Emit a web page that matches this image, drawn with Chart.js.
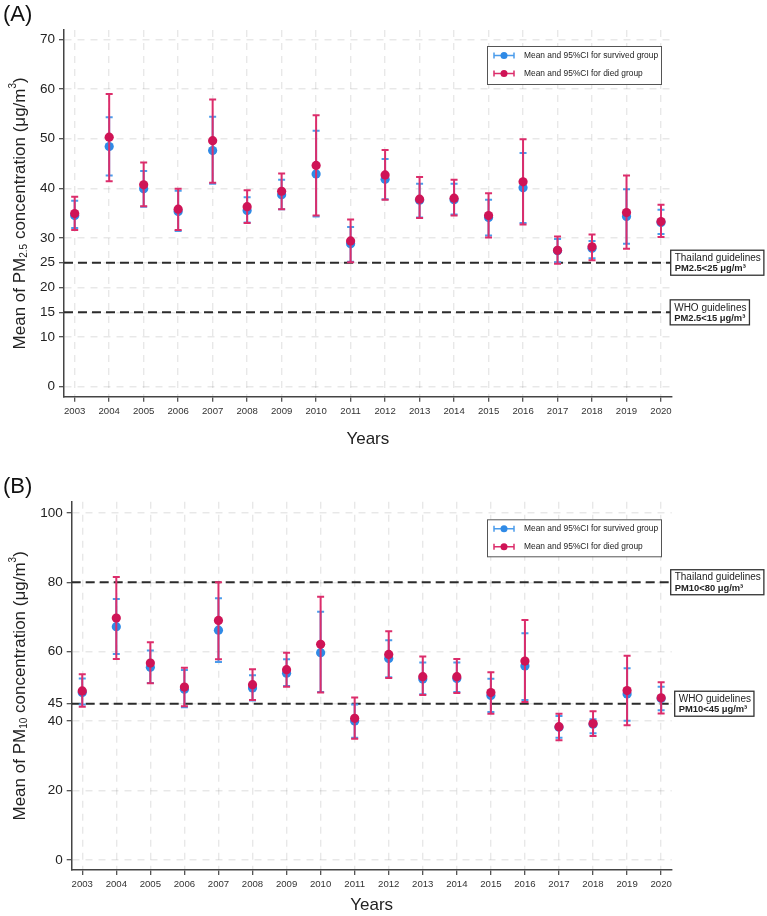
<!DOCTYPE html>
<html>
<head>
<meta charset="utf-8">
<title>PM2.5 and PM10 by year</title>
<script src="https://cdn.jsdelivr.net/npm/chart.js@4.4.1/dist/chart.umd.min.js"></script>
<style>
  body { margin: 0; background: #fff; }
  .panel { position: absolute; left: 0; width: 767px; height: 458px; }
  #panelA { top: 0; }
  #panelB { top: 458px; }
</style>
</head>
<body>
<div class="panel" id="panelA"><canvas id="chartA" width="767" height="458"></canvas></div>
<div class="panel" id="panelB"><canvas id="chartB" width="767" height="458"></canvas></div>
<script>
const FONT = '"Liberation Sans", Arial, Helvetica, sans-serif';

const years = [2003, 2004, 2005, 2006, 2007, 2008, 2009, 2010, 2011, 2012, 2013, 2014, 2015, 2016, 2017, 2018, 2019, 2020];

// PM2.5 - survived group (mean, lower and upper 95% CI)
const pm25SurvMean = [34.5, 48.4, 39.9, 35.3, 47.6, 35.5, 38.7, 42.9, 28.8, 41.8, 37.6, 37.7, 34.1, 40.1, 27.4, 27.9, 34.3, 33.1];
const pm25SurvLo   = [32.0, 42.6, 36.3, 31.4, 40.9, 33.1, 35.8, 34.3, 25.2, 37.8, 34.1, 34.7, 30.5, 33.0, 25.1, 25.9, 28.8, 30.8];
const pm25SurvHi   = [37.5, 54.3, 43.5, 39.5, 54.4, 38.2, 41.7, 51.6, 32.2, 45.9, 40.9, 40.9, 37.7, 47.1, 29.8, 29.4, 39.8, 35.7];
// PM2.5 - died group
const pm25DiedMean = [34.9, 50.3, 40.7, 35.8, 49.6, 36.3, 39.4, 44.6, 29.4, 42.7, 37.8, 38.0, 34.5, 41.3, 27.5, 28.2, 35.1, 33.3];
const pm25DiedLo   = [31.6, 41.4, 36.4, 31.6, 41.1, 33.0, 35.8, 34.5, 25.1, 37.7, 34.0, 34.5, 30.1, 32.7, 24.8, 25.5, 27.8, 30.2];
const pm25DiedHi   = [38.3, 59.0, 45.2, 39.9, 57.9, 39.6, 43.0, 54.7, 33.7, 47.7, 42.3, 41.7, 39.0, 49.9, 30.3, 30.7, 42.6, 36.7];

// PM10 - survived group
const pm10SurvMean = [48.2, 67.2, 55.5, 49.2, 66.2, 49.5, 53.8, 59.7, 40.0, 58.0, 52.1, 52.3, 47.4, 55.9, 38.2, 39.1, 47.8, 46.5];
const pm10SurvLo   = [44.8, 59.3, 51.0, 44.0, 57.0, 45.9, 50.1, 48.4, 35.2, 52.6, 47.7, 48.4, 42.6, 46.1, 35.2, 36.5, 40.1, 43.1];
const pm10SurvHi   = [52.3, 75.2, 60.3, 54.7, 75.4, 53.2, 57.8, 71.5, 44.8, 63.3, 56.9, 56.9, 52.2, 65.3, 41.5, 40.5, 55.2, 49.9];
// PM10 - died group
const pm10DiedMean = [48.7, 69.7, 56.7, 49.8, 69.0, 50.5, 54.8, 62.1, 40.8, 59.2, 52.8, 52.8, 48.2, 57.3, 38.4, 39.3, 48.8, 46.7];
const pm10DiedLo   = [44.1, 57.9, 50.9, 44.3, 57.8, 46.1, 49.9, 48.2, 34.9, 52.4, 47.5, 48.1, 42.1, 45.5, 34.5, 35.7, 38.8, 42.2];
const pm10DiedHi   = [53.5, 81.5, 62.7, 55.4, 80.0, 54.9, 59.7, 75.8, 46.8, 65.9, 58.6, 57.9, 54.1, 69.1, 42.1, 42.8, 58.8, 51.2];

// y tick labels and guideline values
const pm25Ticks = [0, 10, 15, 20, 25, 30, 40, 50, 60, 70];
const pm10Ticks = [0, 20, 40, 45, 60, 80, 100];
const pm25Thai = 25, pm25Who = 15;
const pm10Thai = 80, pm10Who = 45;

const legendLabels = ['Mean and 95%CI for survived group', 'Mean and 95%CI for died group'];

const BLUE = '#2f8ae6', BLUE_BAR = '#4b9ceb';
const RED = '#cf1456', RED_BAR = '#dc2d6b';
const X_MIN = 2002.69, X_MAX = 2020.31;

// stems + caps in one line dataset, broken with null gaps
function ciPoints(lo, hi) {
    let pts = [];
    years.forEach((yr, i) => {
        pts.push({x: yr, y: lo[i]}, {x: yr, y: hi[i]}, {x: yr, y: null});
    });
    return pts;
}
function meanPoints(m) {
    return years.map((yr, i) => ({x: yr, y: m[i]}));
}
function refLine(v) {
    return [{x: X_MIN, y: v}, {x: X_MAX, y: v}];
}

// rotated axis title with sub/superscripts
function drawRich(ctx, parts, cx, cy) {
    ctx.save();
    ctx.translate(cx, cy);
    ctx.rotate(-Math.PI / 2);
    ctx.textBaseline = 'middle';
    ctx.textAlign = 'left';
    let total = 0;
    parts.forEach(p => {
        ctx.font = p.size + 'px ' + FONT;
        p.w = ctx.measureText(p.t).width;
        total += p.w;
    });
    let x = -total / 2;
    parts.forEach(p => {
        ctx.font = p.size + 'px ' + FONT;
        ctx.fillText(p.t, x, p.dy || 0);
        x += p.w;
    });
    ctx.restore();
}

const decor = {
    id: 'decor',
    afterDraw(chart, args, o) {
        const ctx = chart.ctx, area = chart.chartArea, ys = chart.scales.y;
        ctx.save();
        ctx.fillStyle = '#111';
        ctx.textAlign = 'left';
        ctx.textBaseline = 'alphabetic';
        ctx.font = '22px ' + FONT;
        ctx.fillText(o.tag, 3, o.tagY);

        ctx.fillStyle = '#222';
        drawRich(ctx, o.yTitle, 20, (area.top + area.bottom) / 2);

        ctx.font = '17px ' + FONT;
        ctx.textAlign = 'center';
        ctx.textBaseline = 'middle';
        ctx.fillText('Years', (area.left + area.right) / 2, o.xTitleY);

        // legend box
        const L = o.legend;
        ctx.fillStyle = '#fff';
        ctx.fillRect(L.x, L.y, L.w, L.h);
        ctx.strokeStyle = '#555';
        ctx.lineWidth = 1;
        ctx.strokeRect(L.x + 0.5, L.y + 0.5, L.w, L.h);
        [[BLUE_BAR, BLUE], [RED_BAR, RED]].forEach((c, i) => {
            const ry = L.y + 9.5 + i * 18;
            const mx = L.x + 7;
            ctx.strokeStyle = c[0];
            ctx.lineWidth = 1.5;
            ctx.beginPath();
            ctx.moveTo(mx, ry); ctx.lineTo(mx + 20, ry);
            ctx.moveTo(mx, ry - 3); ctx.lineTo(mx, ry + 3);
            ctx.moveTo(mx + 20, ry - 3); ctx.lineTo(mx + 20, ry + 3);
            ctx.stroke();
            ctx.fillStyle = c[1];
            ctx.beginPath();
            ctx.arc(mx + 10, ry, 3.5, 0, Math.PI * 2);
            ctx.fill();
            ctx.fillStyle = '#222';
            ctx.font = '8.4px ' + FONT;
            ctx.textAlign = 'left';
            ctx.textBaseline = 'middle';
            ctx.fillText(legendLabels[i], L.x + 37, ry);
        });

        // guideline labels
        o.boxes.forEach(b => {
            const cy = ys.getPixelForValue(b.value);
            ctx.font = '10px ' + FONT;
            const w1 = ctx.measureText(b.line1).width;
            ctx.font = 'bold 9.4px ' + FONT;
            const w2 = ctx.measureText(b.line2).width;
            const w = Math.max(w1, w2) + 7, h = 25;
            const x0 = area.right + b.dx;
            ctx.fillStyle = '#fff';
            ctx.fillRect(x0, cy - h / 2, w, h);
            ctx.strokeStyle = '#333';
            ctx.lineWidth = 1.3;
            ctx.strokeRect(x0, cy - h / 2, w, h);
            ctx.fillStyle = '#222';
            ctx.textAlign = 'left';
            ctx.textBaseline = 'middle';
            ctx.font = '10px ' + FONT;
            ctx.fillText(b.line1, x0 + 4, cy - 4.5);
            ctx.font = 'bold 9.4px ' + FONT;
            ctx.fillText(b.line2, x0 + 4, cy + 5.8);
        });
        ctx.restore();
    }
};

function makeChart(id, c) {
    const ctx = document.getElementById(id).getContext('2d');
    return new Chart(ctx, {
        type: 'line',
        data: {
            datasets: [
                {data: meanPoints(c.diedMean), showLine: false, pointRadius: 4.6, pointHoverRadius: 4.6,
                 pointBackgroundColor: RED, pointBorderWidth: 0, order: 0},
                {data: ciPoints(c.diedLo, c.diedHi), borderColor: RED_BAR, borderWidth: 2,
                 pointStyle: 'line', pointRadius: 3.5, pointBorderWidth: 2, pointBorderColor: RED_BAR, order: 1},
                {data: meanPoints(c.survMean), showLine: false, pointRadius: 4.6, pointHoverRadius: 4.6,
                 pointBackgroundColor: BLUE, pointBorderWidth: 0, order: 2},
                {data: ciPoints(c.survLo, c.survHi), borderColor: BLUE_BAR, borderWidth: 2,
                 pointStyle: 'line', pointRadius: 3.5, pointBorderWidth: 2, pointBorderColor: BLUE_BAR, order: 3},
                {data: refLine(c.thai), borderColor: '#2b2b2b', borderWidth: 2, borderDash: [9, 5],
                 pointRadius: 0, order: 4},
                {data: refLine(c.who), borderColor: '#2b2b2b', borderWidth: 2, borderDash: [9, 5],
                 pointRadius: 0, order: 4}
            ]
        },
        options: {
            responsive: false,
            animation: false,
            events: [],
            layout: {padding: {top: c.padTop, right: 95.3, bottom: 0, left: 0}},
            plugins: {
                legend: {display: false},
                tooltip: {enabled: false},
                decor: c.decor
            },
            scales: {
                x: {
                    type: 'linear',
                    min: X_MIN,
                    max: X_MAX,
                    afterBuildTicks: s => { s.ticks = years.map(v => ({value: v})); },
                    afterFit: s => { s.height = c.xAxisH; },
                    ticks: {
                        callback: v => String(v),
                        font: {family: FONT, size: 9.6},
                        color: '#333',
                        padding: 4,
                        maxRotation: 0,
                        autoSkip: false
                    },
                    grid: {color: 'rgba(0,0,0,0.09)', lineWidth: 1.4, tickLength: 5, tickColor: '#444', tickWidth: 1.2},
                    border: {color: '#444', width: 1.5, dash: [7, 6]}
                },
                y: {
                    min: c.yMin,
                    max: c.yMax,
                    afterBuildTicks: s => { s.ticks = c.ticks.map(v => ({value: v})); },
                    afterFit: s => { s.width = c.yAxisW; },
                    ticks: {
                        callback: v => String(v),
                        font: {family: FONT, size: 13.5},
                        color: '#222',
                        padding: 4,
                        autoSkip: false
                    },
                    grid: {color: 'rgba(0,0,0,0.09)', lineWidth: 1.4, tickLength: 5, tickColor: '#444', tickWidth: 1.2},
                    border: {color: '#444', width: 1.5, dash: [7, 6]}
                }
            }
        },
        plugins: [decor]
    });
}

makeChart('chartA', {
    survMean: pm25SurvMean, survLo: pm25SurvLo, survHi: pm25SurvHi,
    diedMean: pm25DiedMean, diedLo: pm25DiedLo, diedHi: pm25DiedHi,
    thai: pm25Thai, who: pm25Who, ticks: pm25Ticks,
    yMin: -2, yMax: 71.9, padTop: 30, xAxisH: 61.3, yAxisW: 64,
    decor: {
        tag: '(A)', tagY: 21, xTitleY: 439,
        yTitle: [
            {t: 'Mean of PM', size: 17},
            {t: '2.5', size: 10, dy: 4},
            {t: ' concentration (\u03bcg/m', size: 17},
            {t: '3', size: 10, dy: -7},
            {t: ')', size: 17}
        ],
        legend: {x: 487, y: 46, w: 174, h: 38},
        boxes: [
            {value: pm25Thai, dx: -1, line1: 'Thailand guidelines', line2: 'PM2.5<' + pm25Thai + ' \u03bcg/m\u00b3'},
            {value: pm25Who, dx: -1.5, line1: 'WHO guidelines', line2: 'PM2.5<' + pm25Who + ' \u03bcg/m\u00b3'}
        ]
    }
});

makeChart('chartB', {
    survMean: pm10SurvMean, survLo: pm10SurvLo, survHi: pm10SurvHi,
    diedMean: pm10DiedMean, diedLo: pm10DiedLo, diedHi: pm10DiedHi,
    thai: pm10Thai, who: pm10Who, ticks: pm10Ticks,
    yMin: -2.9, yMax: 103.2, padTop: 43.7, xAxisH: 46, yAxisW: 71.7,
    decor: {
        tag: '(B)', tagY: 35, xTitleY: 447,
        yTitle: [
            {t: 'Mean of PM', size: 17},
            {t: '10', size: 10, dy: 4},
            {t: ' concentration (\u03bcg/m', size: 17},
            {t: '3', size: 10, dy: -7},
            {t: ')', size: 17}
        ],
        legend: {x: 487, y: 61.3, w: 174, h: 37},
        boxes: [
            {value: pm10Thai, dx: -1, line1: 'Thailand guidelines', line2: 'PM10<' + pm10Thai + ' \u03bcg/m\u00b3'},
            {value: pm10Who, dx: 3, line1: 'WHO guidelines', line2: 'PM10<' + pm10Who + ' \u03bcg/m\u00b3'}
        ]
    }
});
</script>
</body>
</html>
